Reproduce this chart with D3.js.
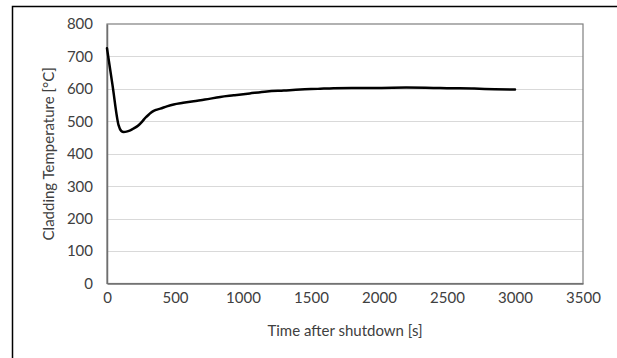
<!DOCTYPE html>
<html>
<head>
<meta charset="utf-8">
<script src="https://cdn.jsdelivr.net/npm/d3@7"></script>
<style>
  html, body { margin: 0; padding: 0; background: #fff; overflow: hidden; width: 617px; height: 358px; }
  svg { display: block; position: absolute; left: 0; top: 0; }
  text { font-family: Lato, "Open Sans", sans-serif; fill: #404040; }
</style>
</head>
<body>
<script>
// time after shutdown [s]
const timeValues = [0, 40, 85, 105, 122, 150, 171, 200, 232, 260, 282, 310, 331, 360, 392, 440, 490,
    560, 637, 720, 833, 931, 1050, 1176, 1300, 1421, 1550, 1666, 1800, 2000, 2200, 2400, 2500, 2700, 2850, 3000];
// cladding temperature [°C]
const tempValues = [725, 613, 488, 470, 467, 469, 472, 479, 488, 500, 511, 522, 529, 535, 539, 546, 552,
    557, 562, 567, 575, 580, 586, 592, 595, 598, 600, 602, 603, 603, 604, 603, 602, 601, 599, 598];
const xTicks = [0, 500, 1000, 1500, 2000, 2500, 3000, 3500];
const yTicks = [0, 100, 200, 300, 400, 500, 600, 700, 800];

const width = 617;
const height = 358;
const margin = { top: 24, right: 34, bottom: 74.5, left: 107 };
const fontSize = 15;

const svg = d3.select("body").append("svg")
    .attr("width", width)
    .attr("height", height);

svg.append("rect")
    .attr("width", width).attr("height", height)
    .attr("fill", "#fff");

// outer frame: only the left and top edges fall inside the picture
svg.append("path")
    .attr("d", `M12.5,${height}V6.5H${width}`)
    .attr("fill", "none")
    .attr("stroke", "#000")
    .attr("stroke-width", 1.5);

const x = d3.scaleLinear().domain([0, 3500]).range([margin.left, width - margin.right]);
const y = d3.scaleLinear().domain([0, 800]).range([height - margin.bottom, margin.top]);

// gridlines
svg.append("g")
    .selectAll("line")
    .data(yTicks.filter(d => d > 0 && d < 800))
    .enter().append("line")
    .attr("x1", x(0)).attr("x2", x(3500))
    .attr("y1", d => Math.round(y(d)) + 0.5)
    .attr("y2", d => Math.round(y(d)) + 0.5)
    .attr("stroke", "#d9d9d9")
    .attr("stroke-width", 1);

// plot area border
svg.append("rect")
    .attr("x", x(0)).attr("y", y(800))
    .attr("width", x(3500) - x(0))
    .attr("height", y(0) - y(800))
    .attr("fill", "none")
    .attr("stroke", "#7f7f7f")
    .attr("stroke-width", 1.2);

// axes
const xAxis = svg.append("g")
    .attr("transform", `translate(0,${y(0)})`)
    .call(d3.axisBottom(x).tickValues(xTicks).tickSize(0).tickPadding(9).tickFormat(d3.format("d")));
const yAxis = svg.append("g")
    .attr("transform", `translate(${x(0)},0)`)
    .call(d3.axisLeft(y).tickValues(yTicks).tickSize(0).tickPadding(14).tickFormat(d3.format("d")));

[xAxis, yAxis].forEach(a => {
    a.select(".domain").attr("stroke", "#6f6f6f").attr("stroke-width", 1.5);
    a.selectAll("text")
        .attr("font-family", "Lato, 'Open Sans', sans-serif")
        .attr("font-size", fontSize)
        .attr("fill", "#404040");
});

// the curve
const points = timeValues.map((t, i) => [t, tempValues[i]]);
const line = d3.line()
    .x(d => x(d[0]))
    .y(d => y(d[1]))
    .curve(d3.curveMonotoneX);

svg.append("path")
    .datum(points)
    .attr("d", line)
    .attr("fill", "none")
    .attr("stroke", "#000")
    .attr("stroke-width", 2.5)
    .attr("stroke-linejoin", "round")
    .attr("stroke-linecap", "round");

// axis titles
svg.append("text")
    .attr("x", (x(0) + x(3500)) / 2)
    .attr("y", 336)
    .attr("text-anchor", "middle")
    .attr("font-size", fontSize)
    .text("Time after shutdown [s]");

svg.append("text")
    .attr("transform", `translate(49,${(y(0) + y(800)) / 2}) rotate(-90)`)
    .attr("dy", "0.35em")
    .attr("text-anchor", "middle")
    .attr("font-size", fontSize)
    .text("Cladding Temperature [°C]");
</script>
</body>
</html>
